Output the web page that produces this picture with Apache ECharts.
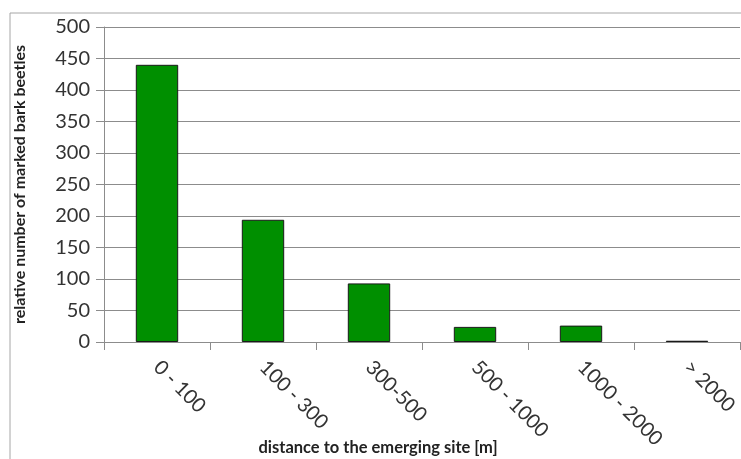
<!DOCTYPE html>
<html><head><meta charset="utf-8">
<script src="https://cdn.jsdelivr.net/npm/echarts@6/dist/echarts.min.js"></script>
<style>html,body{margin:0;padding:0;background:#fff}#c{width:741px;height:459px}</style>
</head><body><div id="c"></div>
<script>
var categories = ['0 - 100', '100 - 300', '300-500', '500 - 1000', '1000 - 2000', '> 2000'];
var values = [440, 194, 93, 24, 26, 2];
var yTicks = [0, 50, 100, 150, 200, 250, 300, 350, 400, 450, 500];

var chart = echarts.init(document.getElementById('c'));
chart.setOption({
  animation: false,
  graphic: [{type: 'rect', shape: {x: 10, y: 13, width: 760, height: 480}, style: {fill: 'none', stroke: '#a6a6a6', lineWidth: 1}}],
  grid: {left: 104, right: 1, top: 27, bottom: 117, containLabel: false, outerBoundsMode: 'none'},
  xAxis: {
    type: 'category', data: categories,
    axisLine: {lineStyle: {color: '#8c8c8c'}},
    axisTick: {show: true, length: 8, lineStyle: {color: '#8c8c8c'}},
    axisLabel: {rotate: -45, color: '#333', fontFamily: 'Lato', fontSize: 20, margin: 22},
    name: 'distance to the emerging site [m]', nameLocation: 'middle', nameGap: 97, nameMoveOverlap: false,
    nameTextStyle: {fontFamily: 'Lato', fontWeight: 'bold', fontSize: 16.5, color: '#222', padding: [0, 88, 0, 0]}
  },
  yAxis: {
    type: 'value', min: yTicks[0], max: yTicks[yTicks.length - 1], interval: 50,
    axisLine: {show: true, lineStyle: {color: '#8c8c8c'}},
    axisTick: {show: true, length: 8, lineStyle: {color: '#8c8c8c'}},
    splitLine: {lineStyle: {color: '#8c8c8c'}},
    axisLabel: {color: '#333', fontFamily: 'Lato', fontSize: 20, margin: 14},
    name: 'relative number of marked bark beetles', nameLocation: 'middle', nameGap: 76, nameMoveOverlap: false,
    nameTextStyle: {fontFamily: 'Lato', fontWeight: 'bold', fontSize: 16, color: '#222'}
  },
  series: [{
    type: 'bar', data: values, barWidth: '40%',
    itemStyle: {color: '#008f00', borderColor: '#1a1a1a', borderWidth: 1}
  }]
});
</script></body></html>
